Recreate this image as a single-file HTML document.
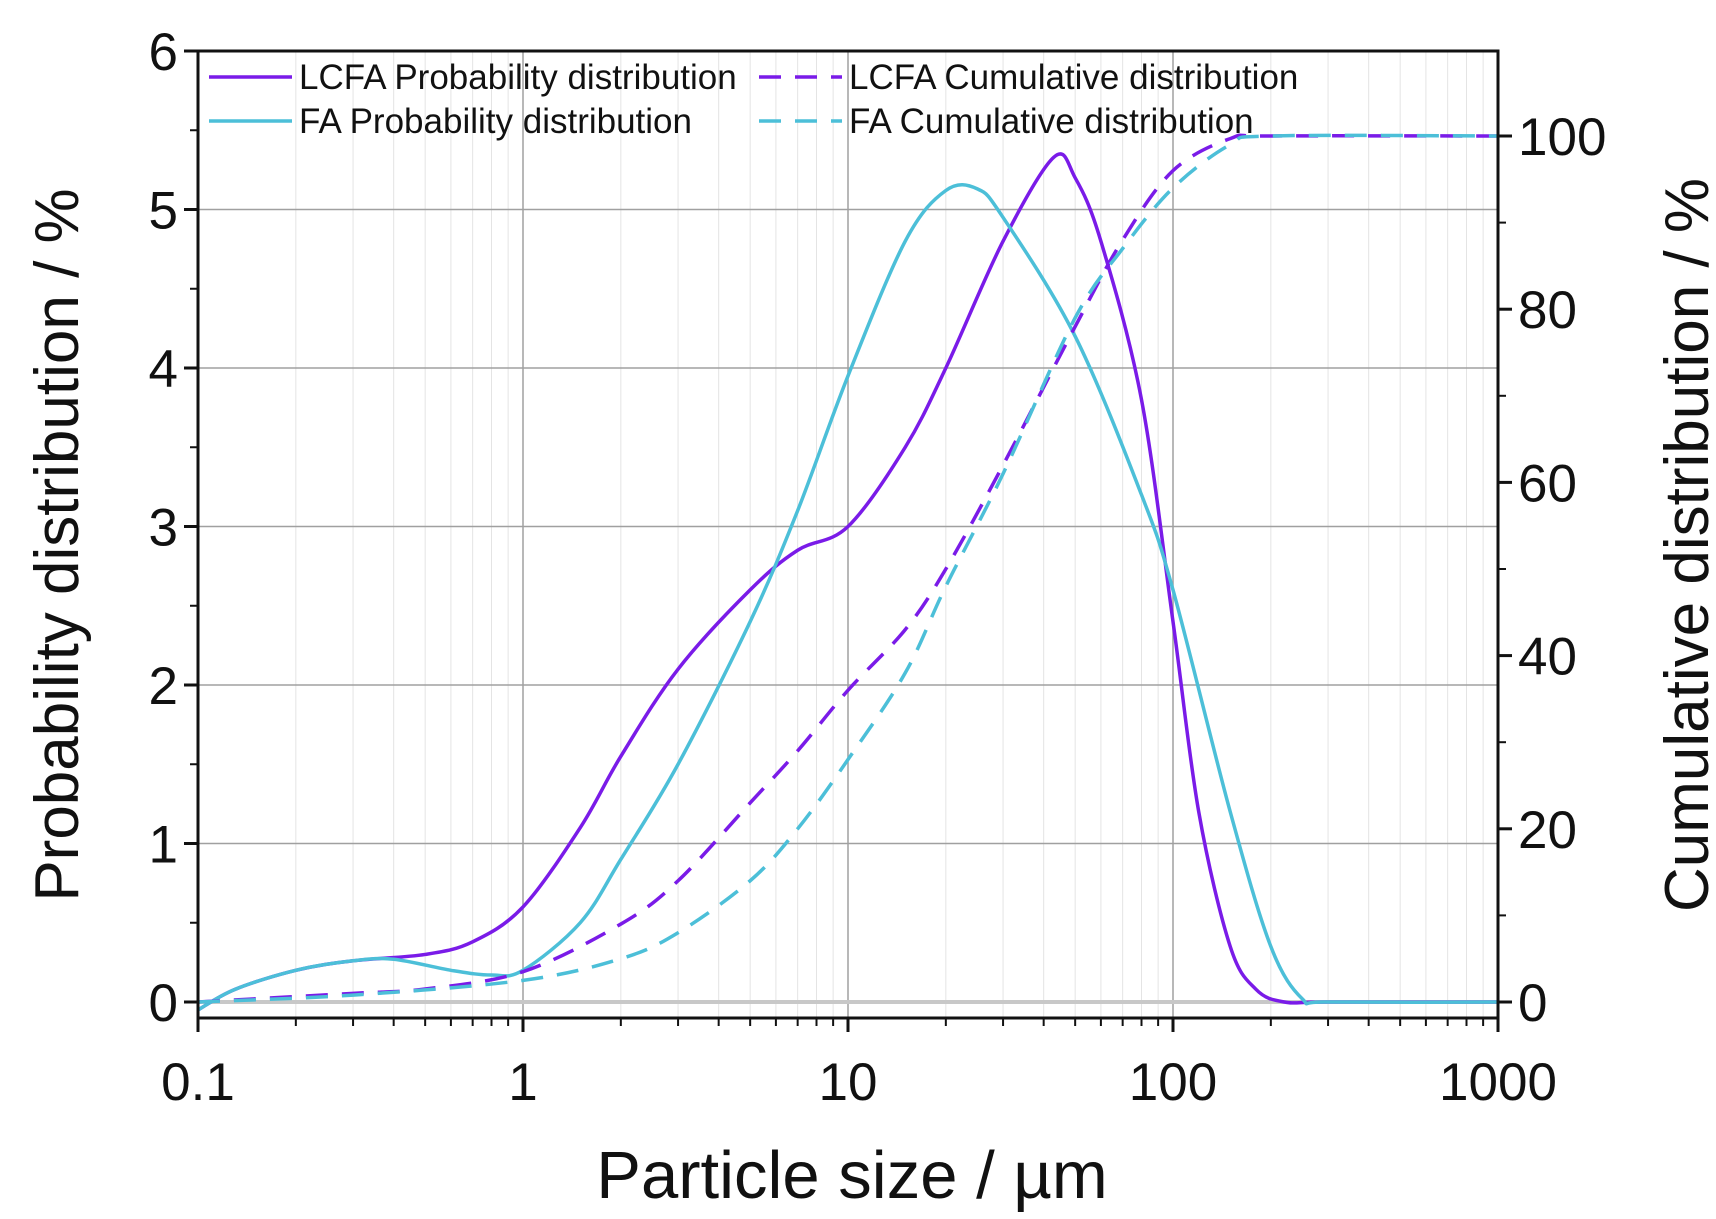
<!DOCTYPE html>
<html><head><meta charset="utf-8"><style>body{margin:0;background:#fff}svg{display:block;font-family:"Liberation Sans",Arial,sans-serif}</style></head>
<body>
<svg id="c" width="1716" height="1219"></svg>
<script>
const lcfaProbX=[0.1,0.13,0.2,0.3,0.5,0.7,1,1.5,2,3,5,7,10,15,20,30,43,50,60,80,100,120,150,180,220,300,1000];
const lcfaProbY=[-0.05,0.08,0.2,0.26,0.3,0.38,0.6,1.1,1.55,2.1,2.6,2.85,3.0,3.5,4.0,4.8,5.33,5.2,4.8,3.8,2.4,1.2,0.35,0.08,0,0,0];
const faProbX=[0.1,0.13,0.2,0.3,0.4,0.6,0.8,1,1.5,2,3,5,7,10,15,20,25,30,50,80,100,150,200,250,300,1000];
const faProbY=[-0.05,0.08,0.2,0.26,0.27,0.2,0.17,0.2,0.5,0.9,1.5,2.4,3.1,3.95,4.8,5.12,5.13,4.95,4.2,3.2,2.6,1.2,0.35,0.02,0,0];
const lcfaCumX=[0.1,0.3,0.5,1,2,3,5,7,10,15,20,30,50,70,100,150,200,1000];
const lcfaCumY=[0,1,1.5,3.5,9,14,23,29,36,43,50,62,78,88,96,99.7,100,100];
const faCumX=[0.1,0.3,1,2,3,5,7,10,15,20,30,50,70,100,150,200,1000];
const faCumY=[0,0.8,2.5,5,8,14,20,28,38,48,61,79,87,94,99,100,100];
const xTicks=[0.1,1,10,100,1000];
const xTickLabels=["0.1","1","10","100","1000"];
const yTicks=[0,1,2,3,4,5,6];
const y2Ticks=[0,20,40,60,80,100];

const L=198,R=1498,T=51,B=1018;
const X=v=>L+(Math.log10(v)+1)*(R-L)/4;
const Y=v=>1002-v*158.5;
const Y2=v=>1002-v*8.66;
const svg=document.getElementById('c');
const NS='http://www.w3.org/2000/svg';
function mk(t,a,p){const e=document.createElementNS(NS,t);for(const k in a)e.setAttribute(k,a[k]);(p||svg).appendChild(e);return e;}
function path(xs,ys,fy){const P=xs.map((x,i)=>[X(x),fy(ys[i])]);let d='M'+P[0][0]+','+P[0][1];
for(let i=0;i<P.length-1;i++){const p0=P[i-1]||P[i],p1=P[i],p2=P[i+1],p3=P[i+2]||p2;
d+=` C${p1[0]+(p2[0]-p0[0])/6},${p1[1]+(p2[1]-p0[1])/6} ${p2[0]-(p3[0]-p1[0])/6},${p2[1]-(p3[1]-p1[1])/6} ${p2[0]},${p2[1]}`;}return d;}
const g=mk('g',{});
for(let d=-1;d<3;d++)for(let m=2;m<10;m++){const x=X(m*Math.pow(10,d));mk('line',{x1:x,x2:x,y1:T,y2:B,stroke:'#e4e4e4','stroke-width':1},g);}
xTicks.slice(1,-1).forEach(v=>mk('line',{x1:X(v),x2:X(v),y1:T,y2:B,stroke:'#a0a0a0','stroke-width':1.5},g));
yTicks.slice(1,-1).forEach(v=>mk('line',{x1:L,x2:R,y1:Y(v),y2:Y(v),stroke:'#a0a0a0','stroke-width':1.5},g));
mk('line',{x1:L,x2:R,y1:Y(0),y2:Y(0),stroke:'#c8c8c8','stroke-width':4},g);
const series=[[lcfaProbX,lcfaProbY,Y,'#7a1be8','','lcfa-probability-line'],[faProbX,faProbY,Y,'#4cbfd8','','fa-probability-line'],
[lcfaCumX,lcfaCumY,Y2,'#7a1be8','22 14','lcfa-cumulative-line'],[faCumX,faCumY,Y2,'#4cbfd8','22 14','fa-cumulative-line']];
series.forEach(s=>{const e=mk('path',{d:path(s[0],s[1],s[2]),fill:'none',stroke:s[3],'stroke-width':3.5,'stroke-dasharray':s[4]});
});
const ax=mk('g',{stroke:'#111','stroke-width':3});
mk('rect',{x:L,y:T,width:R-L,height:B-T,fill:'none'},ax);
xTicks.forEach(v=>mk('line',{x1:X(v),x2:X(v),y1:B,y2:B+14},ax));
for(let d=-1;d<3;d++)for(let m=2;m<10;m++){const x=X(m*Math.pow(10,d));mk('line',{x1:x,x2:x,y1:B,y2:B+8,'stroke-width':2},ax);}
yTicks.forEach(v=>mk('line',{x1:L-14,x2:L,y1:Y(v),y2:Y(v)},ax));
for(let v=0.5;v<6;v+=1)mk('line',{x1:L-8,x2:L,y1:Y(v),y2:Y(v),'stroke-width':2},ax);
y2Ticks.forEach(v=>mk('line',{x1:R,x2:R+14,y1:Y2(v),y2:Y2(v)},ax));
for(let v=10;v<110;v+=20)mk('line',{x1:R,x2:R+8,y1:Y2(v),y2:Y2(v),'stroke-width':2},ax);
function txt(s,a,name){const e=mk('text',a);e.textContent=s;return e;}
xTicks.forEach((v,i)=>txt(xTickLabels[i],{x:X(v),y:1100,'font-size':53,'text-anchor':'middle',fill:'#111'},'x-tick-label'));
yTicks.forEach(v=>txt(String(v),{x:L-20,y:Y(v)+19,'font-size':53,'text-anchor':'end',fill:'#111'},'y-tick-label'));
y2Ticks.forEach(v=>txt(String(v),{x:R+20,y:Y2(v)+19,'font-size':53,fill:'#111'},'y2-tick-label'));
txt('Particle size / µm',{x:852,y:1198,'font-size':67,'text-anchor':'middle',fill:'#111'},'x-axis-title');
txt('Probability distribution / %',{transform:'translate(78,545) rotate(-90)','font-size':62,'text-anchor':'middle',fill:'#111'},'y-axis-title');
txt('Cumulative distribution / %',{transform:'translate(1708,545) rotate(-90)','font-size':62,'text-anchor':'middle',fill:'#111'},'y2-axis-title');
const lg=[[209,77,'#7a1be8','','LCFA Probability distribution'],[759,77,'#7a1be8','22 14','LCFA Cumulative distribution'],
[209,121,'#4cbfd8','','FA Probability distribution'],[759,121,'#4cbfd8','22 14','FA Cumulative distribution']];
lg.forEach(l=>{const e=mk('line',{x1:l[0],x2:l[0]+83,y1:l[1],y2:l[1],stroke:l[2],'stroke-width':3.5,'stroke-dasharray':l[3]});

txt(l[4],{x:l[0]+90,y:l[1]+12,'font-size':35,fill:'#111'},'legend-entry');});
</script>
</body></html>
